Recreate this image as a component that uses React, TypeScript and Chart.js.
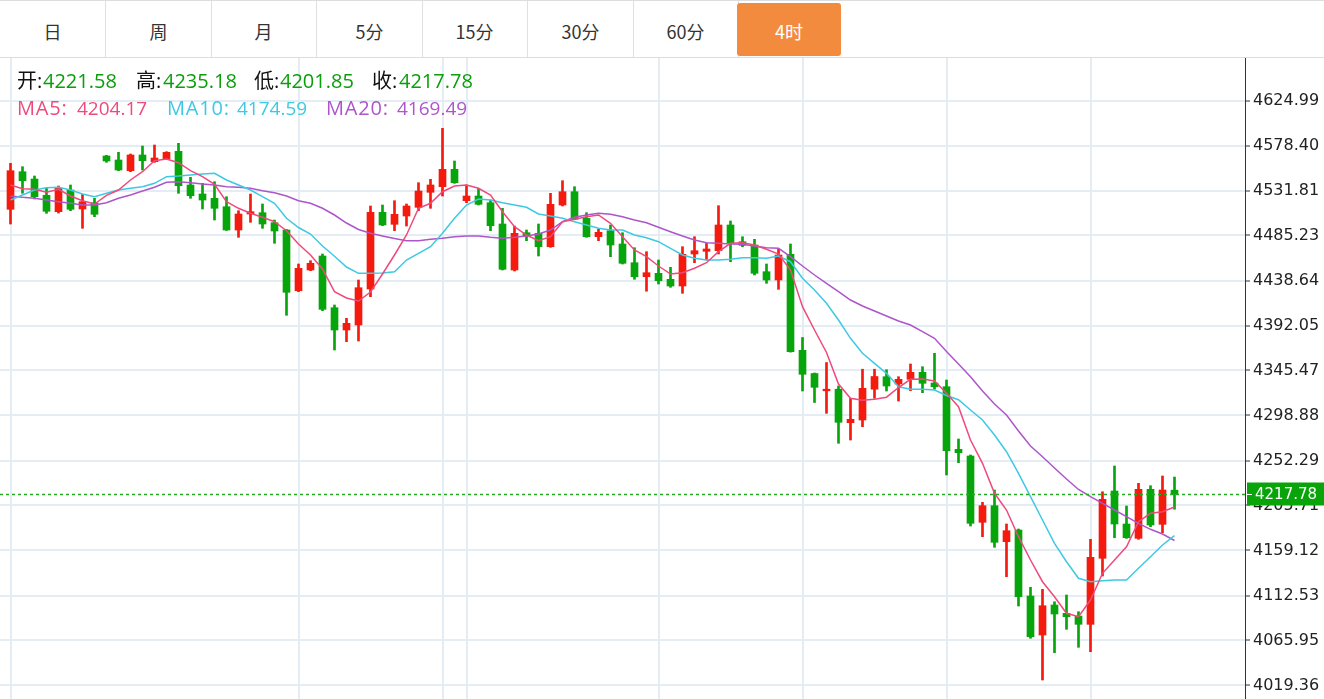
import React, { useEffect, useRef } from "react";
import { Chart, registerables } from "chart.js";

Chart.register(...registerables);

// ---------------- data ----------------
const periods = ["日", "周", "月", "5分", "15分", "30分", "60分", "4时"];
const activePeriod = "4时";

const opens = [
  4512.35, 4551.28, 4543.72, 4526.85, 4509.87, 4532.33, 4512.66, 4519.18, 4567.53, 4563.39,
  4552.31, 4568.57, 4561.63, 4564.43, 4572.40, 4537.51, 4528.19, 4523.74, 4515.04, 4490.92,
  4507.49, 4508.83, 4498.48, 4490.92, 4428.08, 4449.51, 4464.00, 4410.48, 4387.39, 4392.57,
  4429.84, 4509.25, 4496.82, 4505.42, 4514.42, 4529.95, 4535.75, 4553.76, 4521.26, 4526.12,
  4519.18, 4497.13, 4449.51, 4488.13, 4487.50, 4473.63, 4516.80, 4530.57, 4503.03, 4483.98,
  4490.20, 4476.43, 4457.07, 4442.57, 4446.09, 4439.88, 4432.94, 4466.07, 4468.87, 4469.49,
  4496.10, 4478.81, 4475.39, 4447.75, 4439.16, 4465.76, 4366.37, 4342.35, 4324.44, 4326.10,
  4291.42, 4294.21, 4326.10, 4339.04, 4331.48, 4336.35, 4343.60, 4332.52, 4328.69, 4263.88,
  4256.95, 4188.30, 4205.49, 4168.22, 4180.33, 4112.00, 4071.62, 4102.68, 4094.09, 4091.30,
  4082.70, 4151.03, 4220.71, 4186.54, 4171.74, 4222.47, 4186.23, 4221.58,
];
const highs = [
  4559.98, 4556.46, 4546.83, 4534.09, 4536.47, 4537.51, 4527.88, 4523.74, 4568.26, 4571.36,
  4569.60, 4577.89, 4578.92, 4571.99, 4580.68, 4545.48, 4539.27, 4540.93, 4525.40, 4510.90,
  4528.19, 4517.84, 4501.27, 4491.50, 4455.72, 4459.14, 4466.07, 4413.27, 4399.50, 4439.16,
  4515.77, 4516.80, 4521.26, 4517.84, 4539.89, 4543.41, 4596.21, 4562.36, 4537.51, 4534.09,
  4521.98, 4513.39, 4495.06, 4490.92, 4497.13, 4528.92, 4541.96, 4535.75, 4508.83, 4491.65,
  4496.10, 4488.13, 4472.60, 4468.46, 4459.86, 4452.30, 4473.63, 4483.98, 4477.15, 4516.08,
  4500.24, 4483.98, 4481.29, 4455.72, 4470.94, 4476.43, 4379.63, 4342.87, 4353.74, 4329.41,
  4316.68, 4346.81, 4346.81, 4346.29, 4339.04, 4352.19, 4349.40, 4363.27, 4335.63, 4274.54,
  4257.98, 4209.01, 4221.74, 4186.54, 4181.37, 4121.01, 4118.94, 4106.10, 4113.04, 4095.75,
  4170.70, 4219.98, 4246.59, 4205.18, 4228.68, 4226.20, 4236.24, 4235.18,
];
const lows = [
  4497.13, 4528.92, 4523.02, 4508.21, 4508.50, 4510.90, 4492.68, 4504.69, 4561.01, 4552.31,
  4551.28, 4553.04, 4561.00, 4563.90, 4528.92, 4523.74, 4512.66, 4501.27, 4490.50, 4483.37,
  4498.89, 4492.68, 4477.15, 4402.61, 4427.04, 4448.79, 4407.37, 4366.68, 4375.28, 4376.00,
  4421.87, 4495.37, 4490.20, 4495.06, 4510.90, 4513.39, 4526.12, 4539.27, 4519.18, 4516.80,
  4490.20, 4449.50, 4448.47, 4479.84, 4464.00, 4473.01, 4515.77, 4501.50, 4483.37, 4479.84,
  4463.28, 4455.72, 4439.88, 4427.56, 4435.01, 4431.59, 4425.39, 4457.07, 4459.86, 4466.07,
  4458.10, 4473.63, 4444.33, 4435.74, 4429.53, 4364.50, 4324.24, 4312.33, 4301.15, 4270.09,
  4273.51, 4287.28, 4316.68, 4324.24, 4313.88, 4324.55, 4322.48, 4326.10, 4237.27, 4250.01,
  4184.47, 4173.40, 4162.42, 4131.98, 4101.65, 4068.21, 4025.04, 4053.30, 4077.52, 4058.89,
  4054.34, 4132.71, 4172.36, 4171.70, 4170.70, 4183.76, 4177.54, 4201.85,
];
const closes = [
  4552.31, 4541.96, 4525.40, 4510.28, 4534.09, 4512.35, 4520.22, 4507.17, 4562.36, 4553.04,
  4568.57, 4562.67, 4565.46, 4571.36, 4536.78, 4526.43, 4521.98, 4513.39, 4490.92, 4507.49,
  4509.87, 4497.13, 4489.89, 4426.42, 4451.27, 4456.45, 4408.82, 4387.39, 4394.33, 4431.18,
  4509.25, 4496.10, 4507.17, 4515.77, 4531.30, 4537.51, 4553.76, 4539.89, 4526.12, 4517.53,
  4495.37, 4450.23, 4487.50, 4484.71, 4473.63, 4517.53, 4530.57, 4502.00, 4483.98, 4488.54,
  4475.39, 4456.45, 4442.57, 4446.71, 4438.43, 4432.94, 4465.76, 4469.49, 4471.25, 4496.10,
  4477.77, 4475.08, 4446.09, 4439.16, 4465.04, 4364.92, 4341.53, 4328.07, 4326.10, 4291.83,
  4294.94, 4327.03, 4339.25, 4329.41, 4336.35, 4343.60, 4332.21, 4328.69, 4262.43, 4260.36,
  4187.27, 4205.49, 4167.60, 4179.61, 4111.27, 4069.86, 4101.96, 4093.37, 4090.57, 4082.70,
  4152.07, 4212.12, 4186.54, 4172.36, 4222.47, 4185.51, 4221.74, 4217.78,
];
const ma5 = [
  4537.51, 4533.68, 4533.06, 4529.95, 4533.06, 4526.12, 4521.26, 4517.84, 4526.85, 4532.33,
  4542.69, 4551.28, 4562.67, 4564.43, 4560.60, 4552.31, 4546.10, 4538.23, 4520.22, 4513.39,
  4508.21, 4504.07, 4499.51, 4490.20, 4476.43, 4465.04, 4450.54, 4427.04, 4420.52, 4417.41,
  4426.73, 4445.37, 4465.04, 4485.74, 4513.39, 4518.56, 4530.57, 4536.47, 4537.51, 4534.09,
  4527.16, 4509.87, 4494.34, 4485.74, 4479.84, 4483.98, 4499.51, 4502.00, 4504.69, 4506.45,
  4497.86, 4483.98, 4470.21, 4463.28, 4453.65, 4445.37, 4446.71, 4451.27, 4457.07, 4468.46,
  4477.15, 4477.77, 4475.39, 4470.94, 4466.07, 4449.51, 4411.51, 4387.39, 4364.10, 4331.48,
  4316.68, 4314.61, 4315.75, 4317.82, 4327.86, 4336.35, 4336.66, 4334.59, 4321.86, 4307.98,
  4273.51, 4249.39, 4218.33, 4201.04, 4173.40, 4149.27, 4126.81, 4111.27, 4094.09, 4090.57,
  4107.86, 4135.50, 4149.27, 4163.04, 4188.92, 4197.62, 4199.28, 4204.17,
];
const ma10 = [
  4521.98, 4527.16, 4532.33, 4534.71, 4535.13, 4532.33, 4528.19, 4525.40, 4528.92, 4532.33,
  4534.09, 4535.75, 4539.27, 4546.10, 4546.83, 4547.86, 4548.90, 4549.62, 4542.69, 4537.51,
  4532.33, 4525.40, 4518.56, 4503.03, 4493.51, 4486.78, 4474.36, 4463.69, 4452.61, 4446.09,
  4446.09, 4446.40, 4447.75, 4459.86, 4466.80, 4473.63, 4487.50, 4503.03, 4516.80, 4523.02,
  4521.98, 4519.18, 4516.80, 4514.42, 4507.49, 4505.42, 4503.03, 4499.51, 4496.10, 4492.68,
  4490.92, 4490.92, 4485.74, 4482.85, 4478.81, 4471.97, 4465.04, 4461.62, 4459.86, 4459.86,
  4460.59, 4462.24, 4462.24, 4461.62, 4464.00, 4458.10, 4440.92, 4428.80, 4415.03, 4397.74,
  4378.80, 4363.27, 4352.92, 4342.56, 4328.69, 4326.00, 4326.00, 4325.27, 4319.58, 4315.23,
  4304.57, 4294.21, 4278.68, 4261.40, 4239.03, 4214.81, 4190.68, 4166.56, 4147.51, 4130.33,
  4126.81, 4127.84, 4128.57, 4128.57, 4140.68, 4152.69, 4164.80, 4174.59,
];
const ma20 = [
  4526.12, 4524.78, 4523.74, 4521.98, 4520.22, 4518.56, 4516.80, 4516.80, 4519.18, 4523.74,
  4527.16, 4531.30, 4535.13, 4540.30, 4540.93, 4539.89, 4538.54, 4537.51, 4535.75, 4535.13,
  4534.09, 4531.61, 4529.54, 4526.12, 4521.26, 4518.56, 4513.39, 4506.45, 4498.17, 4491.44,
  4487.50, 4484.71, 4482.12, 4479.84, 4479.84, 4481.29, 4482.33, 4483.98, 4484.71, 4484.71,
  4483.37, 4482.33, 4483.37, 4484.71, 4486.78, 4490.92, 4499.51, 4504.07, 4506.45, 4508.21,
  4507.18, 4504.69, 4501.27, 4498.48, 4493.72, 4489.16, 4484.71, 4480.57, 4477.77, 4477.15,
  4476.43, 4476.12, 4474.36, 4472.60, 4471.98, 4463.28, 4453.65, 4444.33, 4435.74, 4427.04,
  4418.45, 4412.24, 4407.06, 4401.89, 4396.71, 4392.57, 4385.63, 4378.80, 4365.13, 4352.19,
  4339.04, 4324.24, 4310.78, 4299.39, 4282.83, 4267.30, 4256.22, 4244.52, 4233.13, 4222.26,
  4214.81, 4207.97, 4201.04, 4194.10, 4187.27, 4181.06, 4176.19, 4169.49,
];

const yTickLabels = [
  "4019.36", "4065.95", "4112.53", "4159.12", "4205.71", "4252.29", "4298.88",
  "4345.47", "4392.05", "4438.64", "4485.23", "4531.81", "4578.40", "4624.99",
];
const gridCandleIdx = [0, 24, 36, 38, 54, 66, 78, 90];
const yMin = 4005.38;
const yMax = 4668.99;

// ---------------- styles ----------------
const UP = "#f41a0e";
const DOWN = "#06a50c";
const MA5C = "#ef4a7c";
const MA10C = "#3ec9e3";
const MA20C = "#ad55ca";
const GRID = "#e5edf4";
const VALUE_GREEN = "#0a9e0a";
const HEAD_FONT = '"Open Sans", "Noto Sans CJK SC", sans-serif';

export default function App() {
  const canvasRef = useRef<HTMLCanvasElement | null>(null);

  useEffect(() => {
    if (!canvasRef.current) return;
    const idx = closes.map((_, i) => i);
    const colors = closes.map((c, i) => (c >= opens[i] ? UP : DOWN));
    const lastClose = closes[closes.length - 1];

    const priceLinePlugin = {
      id: "priceLine",
      afterDraw(chart: any) {
        const { ctx, chartArea } = chart;
        const y = Math.round(chart.scales.y.getPixelForValue(lastClose)) + 0.5;
        ctx.save();
        ctx.strokeStyle = "#25a925";
        ctx.lineWidth = 1.5;
        ctx.setLineDash([3, 3]);
        ctx.beginPath();
        ctx.moveTo(chartArea.left, y);
        ctx.lineTo(chartArea.right, y);
        ctx.stroke();
        ctx.setLineDash([]);
        ctx.fillStyle = "#08a40a";
        ctx.fillRect(chartArea.right + 2, y - 12, chart.width - chartArea.right - 2, 23);
        ctx.strokeStyle = "#ffffff";
        ctx.lineWidth = 1;
        ctx.beginPath();
        ctx.moveTo(chartArea.right + 2, y);
        ctx.lineTo(chartArea.right + 7, y);
        ctx.stroke();
        ctx.fillStyle = "#ffffff";
        ctx.font = '15px "DejaVu Sans"';
        ctx.textBaseline = "middle";
        ctx.textAlign = "left";
        ctx.fillText(lastClose.toFixed(2), chartArea.right + 10, y + 0.5);
        ctx.restore();
      },
    };

    const chart = new Chart(canvasRef.current, {
      type: "bar",
      data: {
        datasets: [
          {
            type: "line",
            label: "MA5",
            data: ma5.map((v, i) => ({ x: i, y: v })),
            borderColor: MA5C,
            borderWidth: 1.5,
            pointRadius: 0,
            tension: 0,
            order: 0,
          },
          {
            type: "line",
            label: "MA10",
            data: ma10.map((v, i) => ({ x: i, y: v })),
            borderColor: MA10C,
            borderWidth: 1.5,
            pointRadius: 0,
            tension: 0,
            order: 0,
          },
          {
            type: "line",
            label: "MA20",
            data: ma20.map((v, i) => ({ x: i, y: v })),
            borderColor: MA20C,
            borderWidth: 1.5,
            pointRadius: 0,
            tension: 0,
            order: 0,
          },
          {
            type: "bar",
            label: "body",
            data: idx.map((i) => ({ x: i, y: [opens[i], closes[i]] })),
            backgroundColor: colors,
            barThickness: 7,
            grouped: false,
            minBarLength: 1,
            order: 1,
          },
          {
            type: "bar",
            label: "wick",
            data: idx.map((i) => ({ x: i, y: [lows[i], highs[i]] })),
            backgroundColor: colors,
            barThickness: 2,
            grouped: false,
            order: 2,
          },
        ],
      } as any,
      options: {
        responsive: false,
        animation: false,
        devicePixelRatio: 1,
        events: [],
        layout: { padding: 0 },
        plugins: { legend: { display: false }, tooltip: { enabled: false } },
        scales: {
          x: {
            type: "linear",
            offset: false,
            min: -10.5 / 12,
            max: -10.5 / 12 + 1245 / 12,
            afterBuildTicks: (s: any) => {
              s.ticks = gridCandleIdx.map((v) => ({ value: v }));
            },
            ticks: { display: false },
            grid: { color: GRID, lineWidth: 2, drawTicks: false, offset: false },
            border: { display: false },
            afterFit: (s: any) => {
              s.height = 0;
              s.paddingLeft = 0;
              s.paddingRight = 0;
            },
          },
          y: {
            type: "linear",
            position: "right",
            min: yMin,
            max: yMax,
            afterBuildTicks: (s: any) => {
              s.ticks = yTickLabels.map((t) => ({ value: parseFloat(t) }));
            },
            ticks: {
              callback: (v: any) => Number(v).toFixed(2),
              font: { family: "DejaVu Sans", size: 16 },
              color: "#222",
              padding: 3,
              autoSkip: false,
            },
            grid: { color: GRID, lineWidth: 2, tickColor: "#333", tickLength: 5, tickWidth: 1 },
            border: { display: true, color: "#333", width: 1 },
            afterFit: (s: any) => {
              s.width = 79;
              s.paddingTop = 0;
              s.paddingBottom = 0;
            },
          },
        },
      } as any,
      plugins: [priceLinePlugin],
    });
    return () => chart.destroy();
  }, []);

  const n = closes.length - 1;
  const ohlc = [
    { label: "开:", value: opens[n], lx: 17, vx: 43 },
    { label: "高:", value: highs[n], lx: 136, vx: 163 },
    { label: "低:", value: lows[n], lx: 254, vx: 280 },
    { label: "收:", value: closes[n], lx: 372, vx: 399 },
  ];
  const mas = [
    { label: "MA5:", value: ma5[n], color: MA5C, lx: 17, vx: 77 },
    { label: "MA10:", value: ma10[n], color: MA10C, lx: 167, vx: 237 },
    { label: "MA20:", value: ma20[n], color: MA20C, lx: 326, vx: 397 },
  ];

  return (
    <div style={{ position: "absolute", left: 0, top: 0, width: 1324, height: 699, overflow: "hidden", background: "#fff" }}>
      <div
        style={{
          position: "absolute",
          left: 0,
          top: 0,
          width: 1324,
          height: 58,
          boxSizing: "border-box",
          borderTop: "1px solid #dddddd",
          borderBottom: "1px solid #dddddd",
        }}
      >
        {periods.map((p, k) => {
          const active = p === activePeriod;
          const left = Math.round(k * 105.5);
          return active ? (
            <div
              key={p}
              style={{
                position: "absolute",
                left: 737,
                top: 2,
                width: 104,
                height: 53,
                lineHeight: "56px",
                textAlign: "center",
                background: "#f38b3e",
                color: "#fff",
                borderRadius: 3,
                fontFamily: '"Noto Sans CJK SC", sans-serif',
                fontSize: 18,
              }}
            >
              {p}
            </div>
          ) : (
            <div
              key={p}
              style={{
                position: "absolute",
                left,
                top: 0,
                width: 105,
                height: 56,
                lineHeight: "60px",
                textAlign: "center",
                borderRight: "1px solid #e0e0e0",
                color: "#333",
                fontFamily: '"Noto Sans CJK SC", sans-serif',
                fontSize: 18,
              }}
            >
              {p}
            </div>
          );
        })}
      </div>
      <canvas
        ref={canvasRef}
        width={1324}
        height={641}
        style={{ position: "absolute", left: 0, top: 58, width: 1324, height: 641 }}
      />
      {ohlc.map((o) => (
        <React.Fragment key={o.label}>
          <span style={{ position: "absolute", left: o.lx, top: 71, fontFamily: HEAD_FONT, fontSize: 20, lineHeight: "20px", color: "#111", whiteSpace: "pre" }}>
            {o.label}
          </span>
          <span style={{ position: "absolute", left: o.vx, top: 71, fontFamily: HEAD_FONT, fontSize: 20, lineHeight: "20px", color: VALUE_GREEN, whiteSpace: "pre" }}>
            {o.value.toFixed(2)}
          </span>
        </React.Fragment>
      ))}
      {mas.map((m) => (
        <React.Fragment key={m.label}>
          <span style={{ position: "absolute", left: m.lx, top: 98, fontFamily: HEAD_FONT, fontSize: 20, letterSpacing: "0.8px", lineHeight: "20px", color: m.color, whiteSpace: "pre" }}>
            {m.label}
          </span>
          <span style={{ position: "absolute", left: m.vx, top: 98, fontFamily: HEAD_FONT, fontSize: 19, lineHeight: "20px", color: m.color, whiteSpace: "pre" }}>
            {m.value.toFixed(2)}
          </span>
        </React.Fragment>
      ))}
    </div>
  );
}
